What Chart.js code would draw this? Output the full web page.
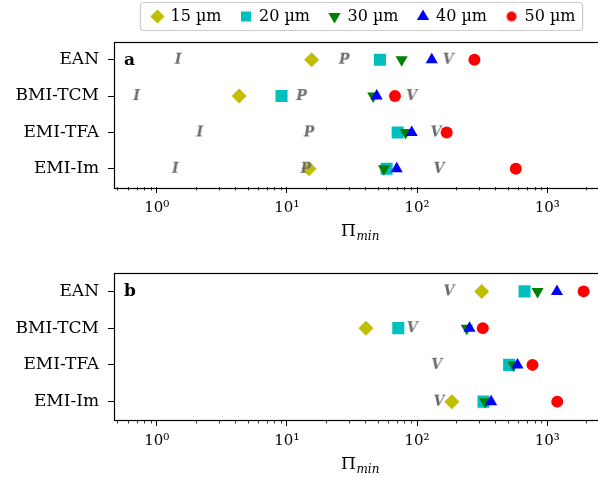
<!DOCTYPE html>
<html>
<head>
<meta charset="utf-8">
<script src="https://cdn.jsdelivr.net/npm/chart.js@4.4.1/dist/chart.umd.min.js"></script>
<style>
    html, body { margin: 0; padding: 0; background: #fff; overflow: hidden; }
    #figure { position: relative; width: 598px; height: 478px; overflow: hidden; }
    .panel { position: absolute; left: 0; width: 607px; }
    #panel-a { top: 0; height: 250px; }
    #panel-b { top: 250px; height: 228px; }
</style>
</head>
<body>
<div id="figure">
    <div class="panel" id="panel-a"><canvas id="chart-a" width="607" height="250"></canvas></div>
    <div class="panel" id="panel-b"><canvas id="chart-b" width="607" height="228"></canvas></div>
</div>
<script>
const categories = ['EAN', 'BMI-TCM', 'EMI-TFA', 'EMI-Im'];
const sizeLabels = ['15 µm', '20 µm', '30 µm', '40 µm', '50 µm'];
const xTickValues = [1, 10, 100, 1000];
const xTickLabels = ['10⁰', '10¹', '10²', '10³'];
const xMin = 0.47;
const xMax = 2830;
const titleMain = 'Π';
const titleSub = 'min';

// panel a (one value per category, null = not shown)
const a15 = [15.5, 4.3, null, 14.8];
const a20 = [51.9, 9.1, 71, 58.4];
const a30 = [76.2, 46.1, 81.8, 55.7];
const a40 = [129.8, 49, 91, 69.8];
const a50 = [276, 67.7, 169, 574];
const aI = [1.46, 0.70, 2.14, 1.39];
const aP = [27.6, 12.97, 14.8, 14.0];
const aV = [174, 91, 140, 147.6];

// panel b
const b15 = [314, 40.5, null, 185];
const b20 = [670, 71.8, 510, 324];
const b30 = [843, 241, 551, 334];
const b40 = [1188, 253, 591, 371];
const b50 = [1905, 320, 771, 1195];
const bV = [176, 92, 141.7, 147.6];

const serif = '"DejaVu Serif", "Liberation Serif", serif';
const legendPad = 19.5;

function toPoints(values) {
    const pts = [];
    values.forEach((v, i) => {
        if (v !== null) pts.push({ x: v, y: categories[i] });
    });
    return pts;
}

// grey bold-italic letter used as a marker
function letterMarker(ch) {
    const c = document.createElement('canvas');
    c.width = 20;
    c.height = 20;
    const ctx = c.getContext('2d');
    ctx.font = 'italic bold 14px ' + serif;
    ctx.fillStyle = '#6a6a6a';
    ctx.textAlign = 'center';
    ctx.textBaseline = 'middle';
    ctx.fillText(ch, 10, 10.5);
    return c;
}

// smaller dot for the legend entry of the circle series
function dotMarker(color, r) {
    const c = document.createElement('canvas');
    c.width = c.height = 2 * r + 2;
    const ctx = c.getContext('2d');
    ctx.fillStyle = color;
    ctx.beginPath();
    ctx.arc(r + 1, r + 1, r, 0, Math.PI * 2);
    ctx.fill();
    return c;
}

const markerStyles = [
    { color: '#bfbf00', pointStyle: 'rectRot', radius: 7.5, rotation: 0, order: 6 },
    { color: '#00bfbf', pointStyle: 'rect', radius: 8.5, rotation: 0, order: 4 },
    { color: '#008000', pointStyle: 'triangle', radius: 7, rotation: 180, order: 3 },
    { color: '#0000ff', pointStyle: 'triangle', radius: 7, rotation: 0, order: 2 },
    { color: '#ff0000', pointStyle: 'circle', radius: 6, rotation: 0, order: 1 }
];

function buildDatasets(series, letters) {
    const sets = series.map((vals, i) => ({
        label: sizeLabels[i],
        data: toPoints(vals),
        backgroundColor: markerStyles[i].color,
        borderWidth: 0,
        pointStyle: markerStyles[i].pointStyle,
        pointRadius: markerStyles[i].radius,
        pointRotation: markerStyles[i].rotation,
        order: markerStyles[i].order
    }));
    letters.forEach(l => {
        sets.push({
            label: l.name,
            data: toPoints(l.values),
            pointStyle: letterMarker(l.name),
            pointRadius: 10,
            order: 5
        });
    });
    return sets;
}

const panelPlugin = {
    id: 'panelFrame',
    afterLayout(chart) {
        // pull the legend row up so it sits in the top strip, nudge it right a bit
        const lg = chart.legend;
        if (lg && lg.options.display) {
            lg.top -= 11;
            lg.bottom -= 11;
            lg.left += 4;
            lg.right += 4;
        }
    },
    afterDatasetsDraw(chart, args, opts) {
        const ctx = chart.ctx;
        const area = chart.chartArea;
        const x = chart.scales.x;
        ctx.save();
        // minor ticks
        ctx.strokeStyle = '#000';
        ctx.lineWidth = 0.8;
        for (let k = -1; k <= 3; k++) {
            for (let m = 2; m <= 9; m++) {
                const v = m * Math.pow(10, k);
                if (v < xMin || v > xMax) continue;
                const px = Math.round(x.getPixelForValue(v)) + 0.5;
                ctx.beginPath();
                ctx.moveTo(px, area.bottom);
                ctx.lineTo(px, area.bottom + 3.5);
                ctx.stroke();
            }
        }
        // frame
        ctx.lineWidth = 1.2;
        ctx.strokeRect(Math.round(area.left) + 0.5, Math.round(area.top) + 0.5,
            Math.round(area.right - area.left), Math.round(area.bottom - area.top));
        // panel letter
        ctx.fillStyle = '#000';
        ctx.font = 'bold 17px ' + serif;
        ctx.textAlign = 'left';
        ctx.textBaseline = 'alphabetic';
        ctx.fillText(opts.label, area.left + 10, area.top + 23);
        // x axis title: Pi with italic subscript
        const cx = (area.left + area.right) / 2;
        const base = area.bottom + 49;
        ctx.font = '17px ' + serif;
        const wMain = ctx.measureText(titleMain).width;
        ctx.font = 'italic 12px ' + serif;
        const wSub = ctx.measureText(titleSub).width;
        const start = cx - (wMain + wSub) / 2;
        ctx.font = '17px ' + serif;
        ctx.fillText(titleMain, start, base);
        ctx.font = 'italic 12px ' + serif;
        ctx.fillText(titleSub, start + wMain + 0.5, base + 3.5);
        ctx.restore();
    },
    afterDraw(chart) {
        const lg = chart.legend;
        if (!lg || !lg.options.display || !lg.lineWidths) return;
        // frame round the legend row, from the same start Chart.js uses for centred items
        const rowW = lg.lineWidths[0];
        const startX = (lg.left + legendPad + lg.right - rowW) / 2;
        const ctx = chart.ctx;
        ctx.save();
        ctx.strokeStyle = '#cccccc';
        ctx.lineWidth = 1.2;
        ctx.beginPath();
        ctx.roundRect(Math.round(startX - 12) + 0.5, 2.5, rowW - legendPad + 19, 28, 3);
        ctx.stroke();
        ctx.restore();
    }
};

function makeChart(id, label, datasets, showLegend, axisHeight, topPad) {
    return new Chart(document.getElementById(id), {
        type: 'scatter',
        data: { datasets: datasets },
        plugins: [panelPlugin],
        options: {
            responsive: false,
            animation: false,
            layout: { autoPadding: false, padding: { top: topPad, right: 1, left: 0, bottom: 0 } },
            plugins: {
                tooltip: { enabled: false },
                panelFrame: { label: label },
                legend: {
                    display: showLegend,
                    position: 'top',
                    fullSize: false,
                    maxHeight: 41.5,
                    labels: {
                        usePointStyle: true,
                        boxWidth: 10,
                        boxHeight: 10,
                        padding: legendPad,
                        color: '#000',
                        font: { family: serif, size: 16 },
                        generateLabels: chart => Chart.defaults.plugins.legend.labels.generateLabels(chart).map(item => {
                            if (item.pointStyle === 'circle') item.pointStyle = dotMarker(item.fillStyle, 5);
                            return item;
                        }),
                        filter: item => item.datasetIndex < sizeLabels.length,
                        sort: (p, q) => p.datasetIndex - q.datasetIndex
                    }
                }
            },
            scales: {
                x: {
                    type: 'logarithmic',
                    min: xMin,
                    max: xMax,
                    border: { display: false },
                    grid: { drawOnChartArea: false, drawTicks: true, tickLength: 6, tickColor: '#000', tickWidth: 1 },
                    afterBuildTicks: scale => { scale.ticks = xTickValues.map(v => ({ value: v })); },
                    afterFit: scale => {
                        scale.height = axisHeight;
                        scale.paddingLeft = 0;
                        scale.paddingRight = 0;
                    },
                    ticks: {
                        autoSkip: false,
                        maxRotation: 0,
                        padding: 6,
                        color: '#000',
                        font: { family: serif, size: 15 },
                        callback: v => {
                            const i = xTickValues.indexOf(v);
                            return i >= 0 ? xTickLabels[i] : '';
                        }
                    }
                },
                y: {
                    type: 'category',
                    labels: categories,
                    offset: true,
                    border: { display: false },
                    grid: { drawOnChartArea: false, drawTicks: true, tickLength: 6, tickColor: '#000', tickWidth: 1 },
                    afterFit: scale => {
                        scale.width = 114;
                        scale.paddingTop = 0;
                        scale.paddingBottom = 0;
                    },
                    ticks: {
                        padding: 9,
                        color: '#000',
                        font: { family: serif, size: 17 }
                    }
                }
            }
        }
    });
}

const datasetsA = buildDatasets([a15, a20, a30, a40, a50], [
    { name: 'I', values: aI },
    { name: 'P', values: aP },
    { name: 'V', values: aV }
]);
const datasetsB = buildDatasets([b15, b20, b30, b40, b50], [
    { name: 'V', values: bV }
]);

makeChart('chart-a', 'a', datasetsA, true, 63, 0);
makeChart('chart-b', 'b', datasetsB, false, 58, 23);
</script>
</body>
</html>
